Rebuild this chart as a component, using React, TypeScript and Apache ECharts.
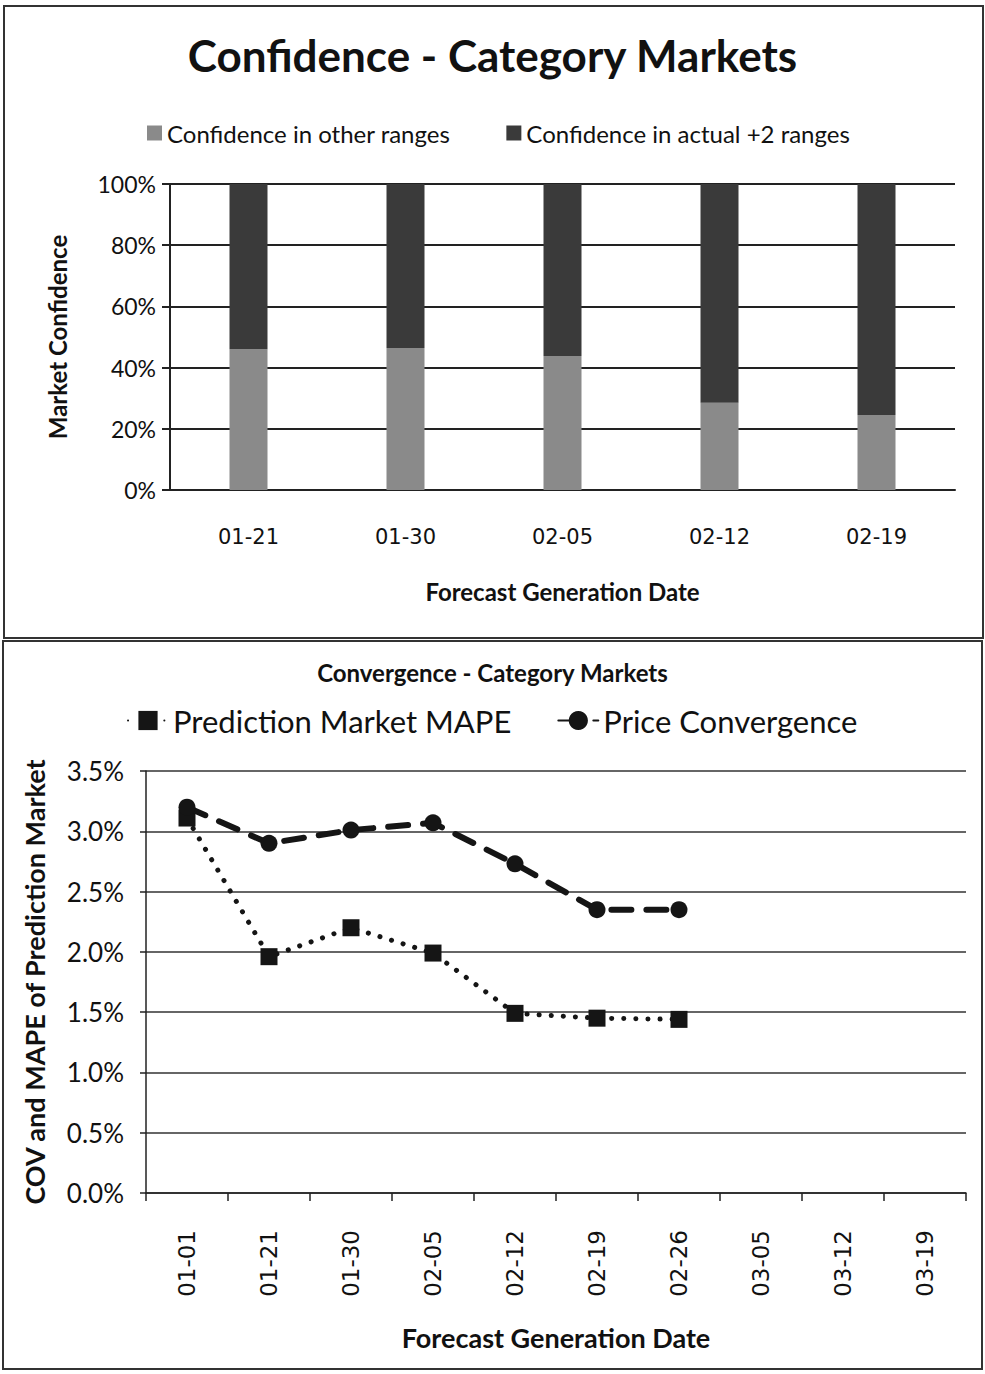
import React, { useEffect, useRef } from "react";
import * as echarts from "echarts";

// Confidence chart
const confDates = ["01-21", "01-30", "02-05", "02-12", "02-19"];
const otherRanges = [46, 46.4, 43.8, 28.5, 24.5];
const actualRanges = [54, 53.6, 56.2, 71.5, 75.5];
const confTicks = [0, 20, 40, 60, 80, 100];

// Convergence chart
const convDates = ["01-01", "01-21", "01-30", "02-05", "02-12", "02-19", "02-26", "03-05", "03-12", "03-19"];
const mape = [3.11, 1.96, 2.2, 1.99, 1.49, 1.45, 1.44];
const priceConv = [3.2, 2.9, 3.01, 3.07, 2.73, 2.35, 2.35];

const FONT = "Lato, 'Open Sans', sans-serif";
const MONO_DIGITS = "'DejaVu Sans', sans-serif";
const INK = "#111";

export default function App() {
  const ref = useRef<HTMLDivElement>(null);

  useEffect(() => {
    if (!ref.current) return;
    const chart = echarts.init(ref.current, undefined, { renderer: "svg" });
    chart.setOption({
      animation: false,
      backgroundColor: "#fff",
      textStyle: { fontFamily: FONT, color: INK },
      title: [
        {
          text: "Confidence - Category Markets",
          left: "center",
          top: 28,
          textStyle: { fontSize: 44, fontWeight: "bold", color: INK, fontFamily: FONT },
        },
        {
          text: "Convergence - Category Markets",
          left: "center",
          top: 655,
          textStyle: { fontSize: 24, fontWeight: "bold", color: INK, fontFamily: FONT },
        },
      ],
      legend: [
        {
          data: ["Confidence in other ranges", "Confidence in actual +2 ranges"],
          left: 142,
          top: 116,
          icon: "rect",
          itemWidth: 15,
          itemHeight: 15,
          itemGap: 56,
          textStyle: { fontSize: 24, color: INK, fontFamily: FONT },
        },
        {
          data: ["Prediction Market MAPE", "Price Convergence"],
          left: 122,
          top: 700,
          itemWidth: 40,
          itemHeight: 24,
          itemGap: 46,
          textStyle: { fontSize: 31, color: INK, fontFamily: FONT },
        },
      ],
      grid: [
        { left: 170, top: 184, width: 785, height: 306 },
        { left: 146, top: 771, width: 820, height: 422 },
      ],
      xAxis: [
        {
          gridIndex: 0,
          type: "category",
          data: confDates,
          axisLine: { lineStyle: { color: "#222", width: 2 } },
          axisTick: { show: false },
          axisLabel: { fontSize: 21, color: INK, margin: 36, fontFamily: MONO_DIGITS },
          name: "Forecast Generation Date",
          nameLocation: "middle",
          nameGap: 89,
          nameTextStyle: { fontSize: 24, fontWeight: "bold", color: INK, fontFamily: FONT },
        },
        {
          gridIndex: 1,
          type: "category",
          data: convDates,
          boundaryGap: true,
          axisLine: { lineStyle: { color: "#222", width: 1.5 } },
          axisTick: { show: true, length: 8, alignWithLabel: false, lineStyle: { color: "#222", width: 1.5 } },
          axisLabel: {
            fontSize: 23,
            color: INK,
            rotate: 90,
            margin: 37,
            interval: 0,
            fontFamily: MONO_DIGITS,
          },
          name: "Forecast Generation Date",
          nameLocation: "middle",
          nameGap: 131,
          nameTextStyle: { fontSize: 27, fontWeight: "bold", color: INK, fontFamily: FONT },
        },
      ],
      yAxis: [
        {
          gridIndex: 0,
          type: "value",
          min: confTicks[0],
          max: confTicks[confTicks.length - 1],
          interval: 20,
          axisLine: { show: true, lineStyle: { color: "#222", width: 2 } },
          axisTick: { show: true, length: 8, lineStyle: { color: "#222", width: 2 } },
          axisLabel: { fontSize: 23, color: INK, margin: 14, formatter: "{value}%" },
          splitLine: { lineStyle: { color: "#222", width: 2 } },
          name: "Market Confidence",
          nameLocation: "middle",
          nameGap: 101,
          nameRotate: 90,
          nameTextStyle: { fontSize: 24, fontWeight: "bold", color: INK, fontFamily: FONT },
        },
        {
          gridIndex: 1,
          type: "value",
          min: 0,
          max: 3.5,
          interval: 0.5,
          axisLine: { show: true, lineStyle: { color: "#222", width: 1.5 } },
          axisTick: { show: true, length: 6, lineStyle: { color: "#222", width: 1.5 } },
          axisLabel: {
            fontSize: 26,
            color: INK,
            margin: 22,
            formatter: (v: number) => v.toFixed(1) + "%",
          },
          splitLine: { lineStyle: { color: "#333", width: 1.5 } },
          name: "COV and MAPE of Prediction Market",
          nameLocation: "middle",
          nameGap: 98,
          nameRotate: 90,
          nameTextStyle: { fontSize: 27, fontWeight: "bold", color: INK, fontFamily: FONT },
        },
      ],
      series: [
        {
          name: "Confidence in other ranges",
          type: "bar",
          xAxisIndex: 0,
          yAxisIndex: 0,
          stack: "conf",
          barWidth: 38,
          data: otherRanges,
          itemStyle: { color: "#8a8a8a" },
        },
        {
          name: "Confidence in actual +2 ranges",
          type: "bar",
          xAxisIndex: 0,
          yAxisIndex: 0,
          stack: "conf",
          barWidth: 38,
          data: actualRanges,
          itemStyle: { color: "#3a3a3a" },
        },
        {
          name: "Prediction Market MAPE",
          type: "line",
          xAxisIndex: 1,
          yAxisIndex: 1,
          data: mape,
          symbol: "rect",
          symbolSize: 17,
          itemStyle: { color: "#151515" },
          lineStyle: { color: "#151515", width: 5, type: [0.1, 12], cap: "round" },
          z: 3,
        },
        {
          name: "Price Convergence",
          type: "line",
          xAxisIndex: 1,
          yAxisIndex: 1,
          data: priceConv,
          symbol: "circle",
          symbolSize: 17,
          itemStyle: { color: "#151515" },
          lineStyle: { color: "#151515", width: 6, type: [20, 15], cap: "round" },
          z: 4,
        },
      ],
      graphic: [
        {
          type: "rect",
          shape: { x: 4, y: 6, width: 979, height: 632 },
          style: { fill: "none", stroke: "#333", lineWidth: 2 },
          silent: true,
        },
        {
          type: "rect",
          shape: { x: 3, y: 641, width: 979, height: 728 },
          style: { fill: "none", stroke: "#333", lineWidth: 2 },
          silent: true,
        },
      ],
    });
    return () => chart.dispose();
  }, []);

  return (
    <div
      ref={ref}
      style={{ position: "absolute", left: 0, top: 0, width: 985, height: 1374, background: "#fff" }}
    />
  );
}
